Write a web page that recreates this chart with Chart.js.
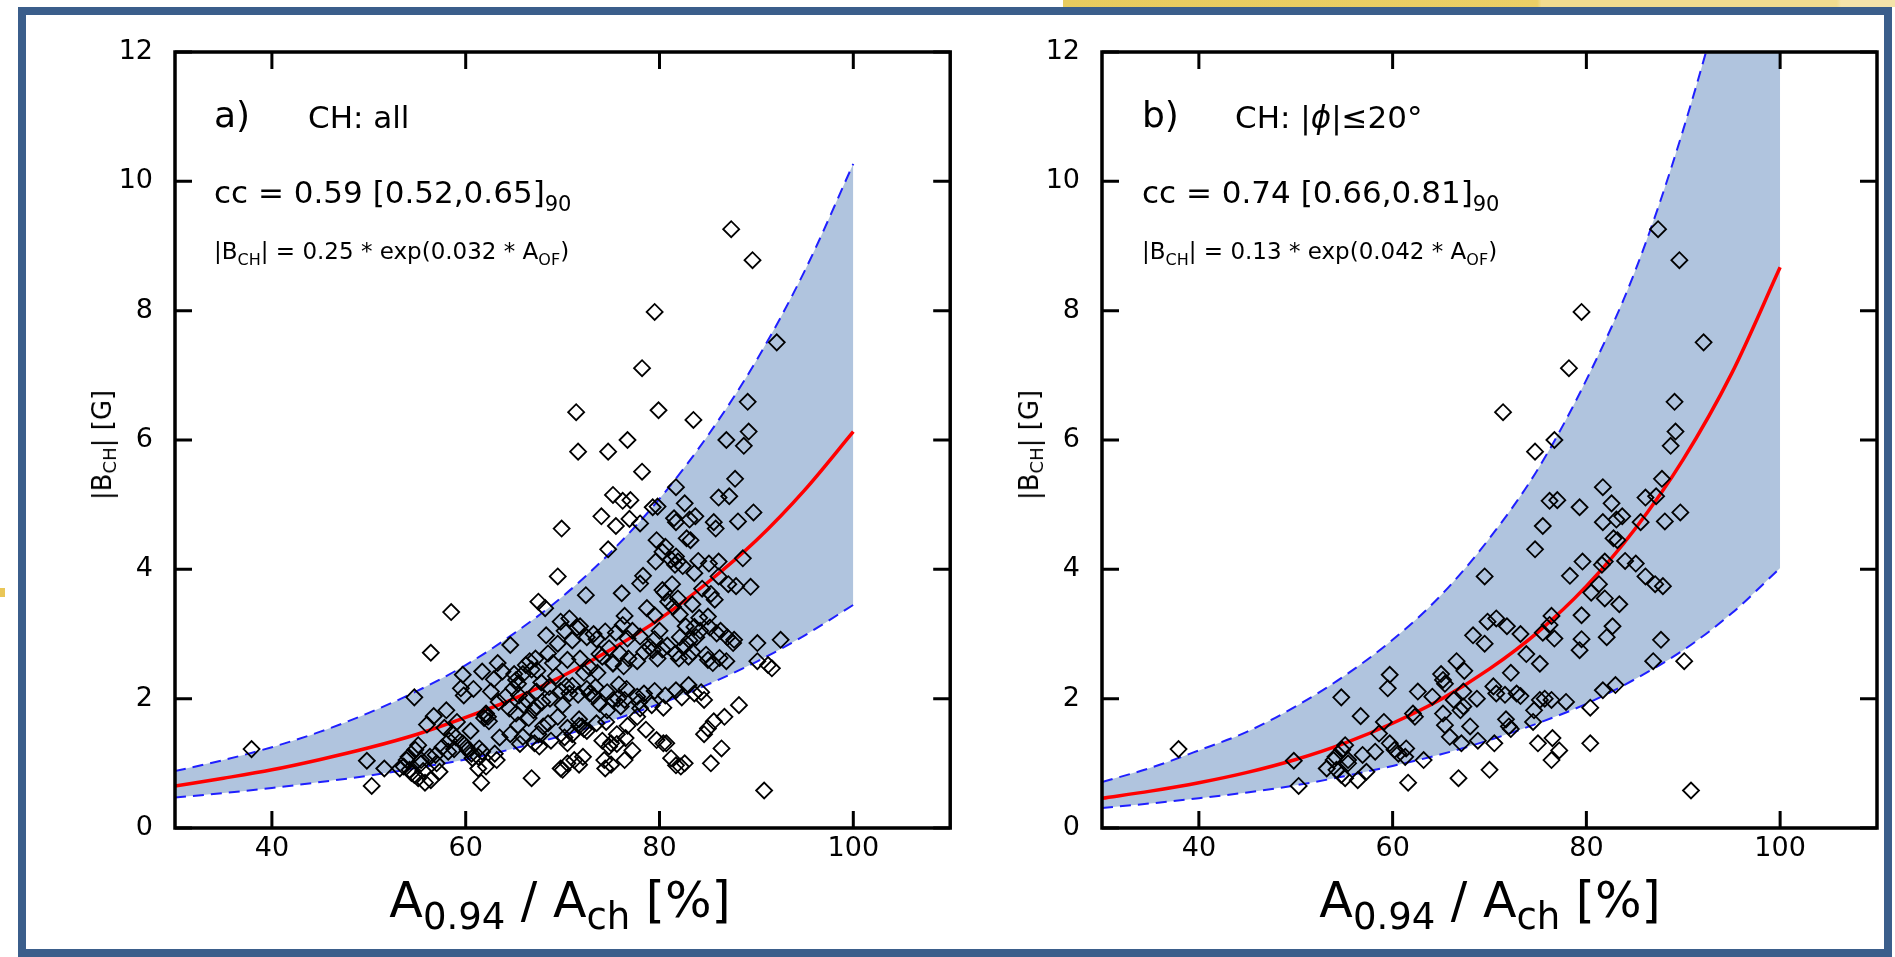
<!DOCTYPE html>
<html>
<head>
<meta charset="utf-8">
<script src="https://cdn.jsdelivr.net/npm/chart.js@4.4.1/dist/chart.umd.min.js"></script>
<style>
  body { margin:0; width:1895px; height:957px; overflow:hidden; background:#fff; position:relative; font-family:"DejaVu Sans", sans-serif; }
  #frame { position:absolute; left:18px; top:7px; width:1874px; height:950px; box-sizing:border-box; border:8px solid #3b5e8b; }
  #strip { position:absolute; left:1063px; top:0; width:832px; height:7px;
           background:linear-gradient(to right,#e8cb5e 0,#ebcf66 57%,#f1dc8f 57.5%,#f1dc8f 93%,#f4e3aa 93.5%); }
  #mark { position:absolute; left:0; top:588px; width:5px; height:9px; background:#e9c657; }
  canvas { position:absolute; top:0; }
  .t { position:absolute; line-height:1; white-space:nowrap; color:#000; }
  .s1 { font-size:21px; position:relative; top:8px; }
  .s2 { font-size:16px; position:relative; top:6px; }
  .s3 { font-size:18px; position:relative; top:5px; }
  .s4 { font-size:37px; position:relative; top:12px; }
  .yl { transform:translate(-50%,-50%) rotate(-90deg); }
  .xl { transform:translateX(-50%); }
</style>
</head>
<body>
<div id="strip"></div>
<div id="frame"></div>
<div id="mark"></div>
<canvas id="chartA" width="960" height="957" style="left:0"></canvas>
<canvas id="chartB" width="940" height="957" style="left:955px"></canvas>

<!-- panel a -->
<div class="t" style="left:214px;top:97px;font-size:36px">a)</div>
<div class="t" style="left:308px;top:102px;font-size:31px">CH: all</div>
<div class="t" style="left:214px;top:177px;font-size:31px">cc = 0.59 [0.52,0.65]<span class="s1">90</span></div>
<div class="t" style="left:214px;top:240px;font-size:23px">|B<span class="s2">CH</span>| = 0.25 * exp(0.032 * A<span class="s2">OF</span>)</div>
<div class="t yl" style="left:102px;top:445px;font-size:26px">|B<span class="s3">CH</span>| [G]</div>
<div class="t xl" style="left:560px;top:876px;font-size:49px">A<span class="s4">0.94</span> / A<span class="s4">ch</span> [%]</div>

<!-- panel b -->
<div class="t" style="left:1142px;top:97px;font-size:36px">b)</div>
<div class="t" style="left:1235px;top:102px;font-size:31px">CH: |<i>ϕ</i>|≤20°</div>
<div class="t" style="left:1142px;top:177px;font-size:31px">cc = 0.74 [0.66,0.81]<span class="s1">90</span></div>
<div class="t" style="left:1142px;top:240px;font-size:23px">|B<span class="s2">CH</span>| = 0.13 * exp(0.042 * A<span class="s2">OF</span>)</div>
<div class="t yl" style="left:1029px;top:445px;font-size:26px">|B<span class="s3">CH</span>| [G]</div>
<div class="t xl" style="left:1490px;top:876px;font-size:49px">A<span class="s4">0.94</span> / A<span class="s4">ch</span> [%]</div>

<script>
// coronal holes within |phi| <= 20 deg  [A_0.94/A_ch %, |B_CH| G]
var lowLat = [
  [87.4,9.26],[89.6,8.78],[79.5,7.98],[92.1,7.51],[78.2,7.11],[71.4,6.43],[89.1,6.59],[76.7,6.00],
  [74.7,5.82],[89.2,6.13],[88.7,5.91],[87.8,5.40],[81.7,5.27],[76.2,5.06],[77.0,5.07],[79.3,4.96],
  [82.6,5.02],[86.1,5.11],[87.2,5.13],[89.7,4.88],[88.1,4.74],[85.6,4.73],[81.7,4.73],[83.7,4.82],
  [83.1,4.77],[82.8,4.48],[83.2,4.45],[75.5,4.67],[74.7,4.31],[69.5,3.89],[78.3,3.90],[79.6,4.12],
  [81.6,4.07],[81.9,4.12],[84.0,4.13],[85.1,4.09],[86.1,3.89],[87.1,3.77],[87.9,3.74],[81.3,3.77],
  [80.5,3.64],[81.9,3.55],[83.4,3.46],[79.5,3.29],[76.4,3.28],[76.2,3.14],[82.7,3.12],[82.1,2.95],
  [79.5,2.92],[79.3,2.75],[76.7,2.93],[75.5,3.02],[87.7,2.91],[86.9,2.58],[90.1,2.58],[73.8,2.69],
  [75.2,2.54],[73.2,3.00],[71.8,3.12],[70.7,3.24],[69.8,3.19],[68.3,2.98],[69.5,2.85],[72.2,2.40],
  [66.6,2.58],[67.4,2.43],[65.2,2.29],[65.0,2.38],[65.4,2.23],[67.3,2.11],[68.7,2.00],[70.4,2.19],
  [70.7,2.08],[71.6,2.06],[72.8,2.08],[73.2,2.04],[75.2,1.98],[75.7,2.00],[76.4,1.98],[77.9,1.95],
  [74.6,1.82],[81.7,2.13],[83.0,2.21],[80.4,1.86],[66.3,1.98],[67.0,1.82],[65.2,1.77],[68.0,1.57],
  [71.7,1.68],[72.0,1.57],[72.2,1.53],[74.5,1.64],[65.9,1.41],[67.1,1.31],[68.8,1.35],[70.5,1.31],
  [75.0,1.31],[76.5,1.39],[77.2,1.20],[76.4,1.05],[80.4,1.31],[66.8,0.77],[70.0,0.90],[90.8,0.58],
  [37.9,1.22],[49.8,1.04],[50.3,0.65],[54.7,2.02],[56.7,1.73],[55.1,1.28],[54.8,1.21],[53.9,1.05],
  [53.2,0.92],[54.2,0.90],[55.1,0.77],[55.4,1.05],[56.4,0.74],[57.3,0.87],[56.9,1.13],[58.2,1.18],
  [58.6,1.46],[59.1,1.64],[59.7,2.37],[59.5,2.16],[59.7,1.31],[60.2,1.21],[60.6,1.15],[61.4,1.23],
  [61.3,1.10],[61.6,0.70],[62.3,1.72],[62.1,1.77],[62.6,2.11],[63.2,1.05],[64.1,2.03],[67.3,1.88],
  [65.4,1.59],[54.1,1.10],[54.7,0.82],[55.4,1.00]
];

// remaining coronal holes (only in panel a)
var highLat = [
  [79.9,6.46],[83.5,6.31],[86.9,6.00],[71.6,5.82],[78.2,5.51],[75.2,5.15],[79.8,4.97],[74.0,4.82],
  [76.9,4.78],[69.9,4.63],[78.0,4.71],[79.7,4.45],[80.3,4.27],[81.7,4.20],[86.1,4.12],[88.6,4.17],
  [89.4,3.73],[72.4,3.60],[76.1,3.63],[78.0,3.78],[85.0,3.27],[78.7,3.40],[67.5,3.50],[68.2,3.40],
  [58.5,3.34],[56.4,2.71],[64.6,2.83],[90.1,2.86],[92.5,2.91],[91.6,2.47],[91.2,2.52],
  [80.6,4.35],[81.2,4.15],[82.4,4.05],[85.8,4.63],[81.5,4.79],[83.6,3.94],[84.4,3.70],[85.3,3.62],
  [85.7,3.53],[80.3,3.68],[80.9,3.50],[81.4,3.42],[82.1,3.30],[84.1,3.25],[85.2,3.10],[86.3,3.05],
  [87.0,2.95],[87.6,2.86],
  [83.8,2.95],[84.2,3.05],[83.6,3.11],[85.9,3.01],[83.1,2.90],[82.5,2.80],[83.4,2.72],[83.0,2.65],
  [82.0,2.62],[81.7,2.70],[80.8,2.82],[85.0,2.60],[84.8,2.68],[86.2,2.63],[85.5,2.55],
  [74.4,3.04],[73.5,2.92],[74.8,2.78],[75.9,2.70],[76.8,2.62],[77.7,2.58],[78.4,2.72],[79.0,2.80],
  [80.3,2.76],[79.8,2.62],[75.2,2.55],[76.3,2.50],[78.0,2.96],[77.2,3.05],[80.0,3.05],[74.1,2.65],
  [71.5,3.10],[72.5,2.95],[70.2,3.05],[71.0,2.90],[67.2,2.62],[66.2,2.52],[65.9,2.38],[66.8,2.45],
  [68.5,2.70],[69.0,2.55],[70.5,2.60],[71.8,2.62],[72.8,2.48],[73.6,2.40],[69.3,2.35],[63.8,2.42],
  [64.9,2.16],[65.5,2.05],[67.8,2.25],[68.6,2.18],[69.8,2.12],[71.0,2.20],[72.5,2.15],[73.4,2.18],
  [74.6,2.10],[75.8,2.22],[76.6,2.15],[77.7,2.03],[78.4,2.08],[79.5,2.12],[80.6,2.05],[82.3,2.02],
  [83.6,2.08],[84.6,1.98],[84.3,2.10],[79.2,1.90],[78.0,1.85],[76.0,1.88],[73.8,1.92],[70.0,1.90],
  [67.9,1.95],[66.0,1.90],[64.5,1.85],[63.4,1.95],
  [61.9,1.70],[62.4,1.65],[62.0,1.75],
  [66.5,1.70],[67.5,1.45],[68.5,1.62],[69.5,1.72],[70.5,1.55],[72.5,1.50],[73.5,1.62],[75.6,1.45],
  [76.7,1.58],[77.7,1.72],[78.6,1.52],[63.5,1.40],[64.6,1.45],[65.6,1.30],[67.6,1.26],[70.2,1.40],
  [71.0,1.45],[71.7,1.58],[74.1,1.35],[74.8,1.26],[75.6,1.30],[79.7,1.36],[80.7,1.31],
  [51.6,0.92],[61.3,0.92],[62.1,0.95],[63.0,1.15],[69.8,0.92],[70.5,1.00],[71.2,1.05],[71.7,0.98],
  [72.1,1.10],[74.3,1.05],[74.4,0.92],[75.0,0.98],[81.2,1.08],[81.7,0.97],[82.2,0.95],[82.6,1.00],
  [85.3,1.00],[86.4,1.23],[85.0,1.54],[84.6,1.45],[86.7,1.72],[88.2,1.90],[85.6,1.65],
  [55.6,0.88],[55.8,0.70],[56.3,1.10],[57.6,1.25],[58.3,1.35],[59.0,1.40],[60.1,1.25],[60.7,1.08],
  [61.7,1.18],[54.4,0.85],[57.0,1.00],[58.8,1.22],[53.6,0.95],[56.0,1.60],[57.8,1.55],[60.5,1.50],
  [58.0,1.82],[59.8,2.05],[60.8,2.15],[62.9,2.30],[61.7,2.42],[63.3,2.55]
];

// fit curves and 90% bands
var curveX   = [30, 35, 40, 45, 50, 55, 60, 65, 70, 75, 80, 85, 90, 95, 100];
var fitAll   = [0.65, 0.77, 0.90, 1.06, 1.24, 1.45, 1.71, 2.00, 2.35, 2.76, 3.23, 3.80, 4.45, 5.23, 6.13];
var upAll    = [0.88, 1.05, 1.25, 1.49, 1.78, 2.12, 2.52, 3.01, 3.58, 4.27, 5.09, 6.07, 7.23, 8.62, 10.27];
var lowAll   = [0.47, 0.54, 0.62, 0.71, 0.81, 0.93, 1.06, 1.23, 1.43, 1.66, 1.92, 2.22, 2.57, 2.98, 3.45];
var fitLow   = [0.46, 0.57, 0.70, 0.86, 1.06, 1.31, 1.62, 1.99, 2.46, 3.03, 3.74, 4.62, 5.70, 7.03, 8.67];
var upLow    = [0.71, 0.93, 1.20, 1.49, 1.88, 2.35, 2.91, 3.60, 4.48, 5.55, 6.93, 8.60, 10.8, 13.5, 16.8];
var lowLow   = [0.31, 0.38, 0.46, 0.55, 0.66, 0.80, 0.96, 1.14, 1.36, 1.62, 1.92, 2.30, 2.75, 3.32, 4.02];

var xTicks = [40, 60, 80, 100];
var yTicks = [0, 2, 4, 6, 8, 10, 12];

function toXY(ys) {
  return curveX.map(function(x, i) { return {x: x, y: ys[i]}; });
}
function pairs(list) {
  return list.map(function(p) { return {x: p[0], y: p[1]}; });
}

// box round the plot and ticks pointing inwards on all four sides
var frameTicks = {
  id: 'frameTicks',
  afterDatasetsDraw: function(chart) {
    var ctx = chart.ctx, a = chart.chartArea, x = chart.scales.x, y = chart.scales.y;
    ctx.save();
    ctx.strokeStyle = '#000';
    ctx.lineWidth = 3;
    ctx.beginPath();
    xTicks.forEach(function(v) {
      var px = x.getPixelForValue(v);
      ctx.moveTo(px, a.bottom); ctx.lineTo(px, a.bottom - 17);
      ctx.moveTo(px, a.top); ctx.lineTo(px, a.top + 17);
    });
    yTicks.forEach(function(v) {
      var py = y.getPixelForValue(v);
      ctx.moveTo(a.left, py); ctx.lineTo(a.left + 17, py);
      ctx.moveTo(a.right, py); ctx.lineTo(a.right - 17, py);
    });
    ctx.stroke();
    ctx.lineWidth = 3.5;
    ctx.strokeRect(a.left, a.top, a.right - a.left, a.bottom - a.top);
    ctx.restore();
  }
};

function makePanel(id, points, fit, up, low, leftW, padRight) {
  var ctx = document.getElementById(id);
  return new Chart(ctx, {
    type: 'scatter',
    data: {
      datasets: [
        { data: toXY(up), showLine: true, pointRadius: 0, borderColor: '#1f1fff', borderWidth: 2,
          borderDash: [11, 7], backgroundColor: '#b0c4de', fill: '+1', cubicInterpolationMode: 'monotone', order: 3 },
        { data: toXY(low), showLine: true, pointRadius: 0, borderColor: '#1f1fff', borderWidth: 2,
          borderDash: [11, 7], fill: false, cubicInterpolationMode: 'monotone', order: 2 },
        { data: toXY(fit), showLine: true, pointRadius: 0, borderColor: '#ff0000', borderWidth: 3.5,
          fill: false, cubicInterpolationMode: 'monotone', order: 1 },
        { data: pairs(points), pointStyle: 'rectRot', pointRadius: 8, borderWidth: 1.8,
          borderColor: '#000', backgroundColor: 'rgba(0,0,0,0)', order: 0 }
      ]
    },
    options: {
      responsive: false,
      animation: false,
      devicePixelRatio: 1,
      layout: { padding: { top: 52, right: padRight, left: 0, bottom: 0 } },
      plugins: { legend: { display: false }, tooltip: { enabled: false } },
      scales: {
        x: {
          type: 'linear', min: 30, max: 110,
          grid: { display: false }, border: { display: false },
          afterBuildTicks: function(s) { s.ticks = xTicks.map(function(v) { return {value: v}; }); },
          ticks: { color: '#000', font: { family: 'DejaVu Sans', size: 27 }, padding: -3, maxRotation: 0 },
          afterFit: function(s) { s.height = 129; }
        },
        y: {
          type: 'linear', min: 0, max: 12,
          grid: { display: false }, border: { display: false },
          afterBuildTicks: function(s) { s.ticks = yTicks.map(function(v) { return {value: v}; }); },
          ticks: { color: '#000', font: { family: 'DejaVu Sans', size: 27 }, padding: 14 },
          afterFit: function(s) { s.width = leftW; }
        }
      }
    },
    plugins: [frameTicks]
  });
}

makePanel('chartA', lowLat.concat(highLat), fitAll, upAll, lowAll, 175, 9);
makePanel('chartB', lowLat, fitLow, upLow, lowLow, 147, 18);
</script>
</body>
</html>
